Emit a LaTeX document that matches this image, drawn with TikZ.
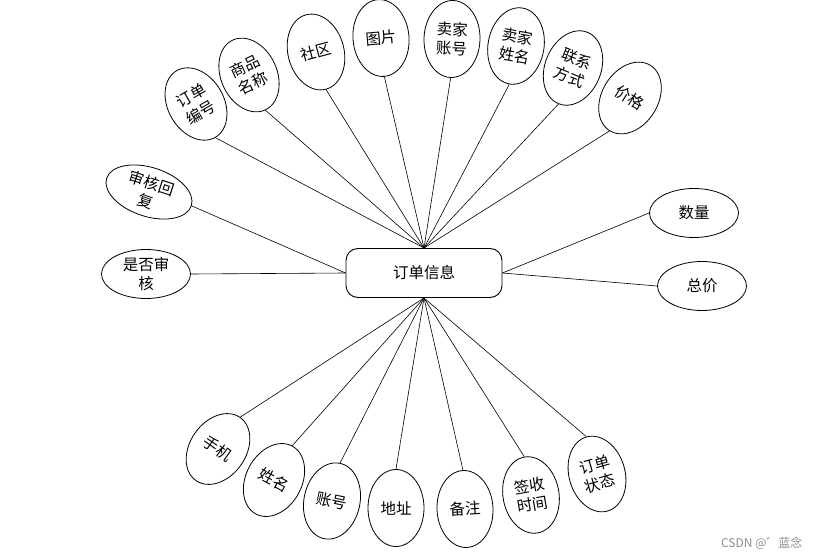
\documentclass[tikz,border=0pt]{standalone}
\usepackage{fontspec}
\newfontfamily\cjk{Noto Sans CJK SC}
\usetikzlibrary{shapes.geometric, positioning}
\definecolor{wmgray}{RGB}{140,140,140}
\tikzset{
  entity/.style = {draw=black, rounded corners=12pt, minimum width=156pt,
                   minimum height=49pt, line width=0.9pt,
                   font=\cjk\fontsize{15.5}{18}\selectfont},
  attr/.style   = {ellipse, draw=black, line width=0.8pt, minimum width=56pt,
                   minimum height=77pt, inner sep=0pt, align=center,
                   font=\cjk\fontsize{15.5}{19}\selectfont},
  wattr/.style  = {ellipse, draw=black, line width=0.8pt, minimum width=89pt,
                   minimum height=49pt, inner sep=0pt, align=center,
                   font=\cjk\fontsize{15.5}{19}\selectfont},
  link/.style   = {draw=black, line width=0.6pt},
}

\begin{document}
\begin{tikzpicture}[x=1pt, y=-1pt]
\useasboundingbox (0,0) rectangle (819,559);

\node[entity] (dd) at (424,273) {订单信息};

% top
\node[attr, rotate=30]  (ddbh) at (196,104) {订单\\编号};
\node[attr, rotate=25]  (spmc) at (249,75)  {商品\\名称};
\node[attr, rotate=15]  (sq)   at (316,52)  {社区};
\node[attr, rotate=5]   (tp)   at (381,38)  {图片};
\node[attr, rotate=-2]  (mjzh) at (452,39)  {卖家\\账号};
\node[attr, rotate=-10] (mjxm) at (516,46)  {卖家\\姓名};
\node[attr, rotate=-22] (lxfs) at (573,68)  {联系\\方式};
\node[attr, rotate=-32] (jg)   at (630,98)  {价格};

% left and right
\node[wattr, rotate=-18] (shhf) at (149,192) {审核回\\复};
\node[wattr]             (sfsh) at (146,274) {是否审\\核};
\node[wattr]             (sl)   at (694,213) {数量};
\node[wattr]             (zj)   at (702,286) {总价};

% bottom
\node[attr, rotate=-35] (sj)   at (218,449) {手机};
\node[attr, rotate=-28] (xm)   at (274,480) {姓名};
\node[attr, rotate=-12] (zh)   at (332,501) {账号};
\node[attr]             (dz)   at (396,508) {地址};
\node[attr, rotate=3]   (bz)   at (465,509) {备注};
\node[attr, rotate=10]  (qssj) at (531,495) {签收\\时间};
\node[attr, rotate=16]  (ddzt) at (597,474) {订单\\状态};

\foreach \a in {ddbh, spmc, sq, tp, mjzh, mjxm, lxfs, jg}
  \draw[link] (\a.south) -- (dd.north);
\foreach \a in {sj, xm, zh, dz, bz, qssj, ddzt}
  \draw[link] (\a.north) -- (dd.south);
\draw[link] (shhf.east) -- (dd.west);
\draw[link] (sfsh.east) -- (dd.west);
\draw[link] (sl.west) -- (dd.east);
\draw[link] (zj.west) -- (dd.east);

\node[font=\cjk\fontsize{12}{14}\selectfont, wmgray, anchor=east] (wm) at (806,543) {CSDN @゛蓝念};

\end{tikzpicture}
\end{document}
